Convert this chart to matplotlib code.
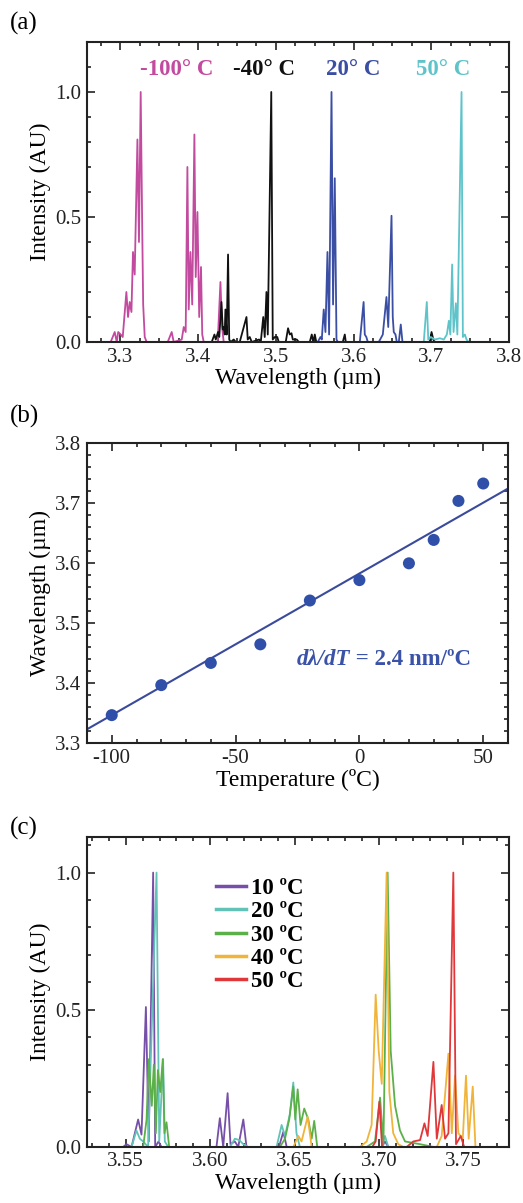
import numpy as np
import matplotlib
matplotlib.use("Agg")
import matplotlib.pyplot as plt
from matplotlib.ticker import MultipleLocator, FormatStrFormatter

plt.rcParams['font.family'] = ['Liberation Serif', 'DejaVu Serif']
plt.rcParams['font.size'] = 14
plt.rcParams['axes.unicode_minus'] = False

# --- (a) lasing spectra at four temperatures ---
a_m100_wl = [3.2875, 3.2927, 3.2953, 3.2972, 3.3004, 3.3030, 3.3077, 3.3098, 3.3120, 3.3142,
             3.3162, 3.3184, 3.3219, 3.3239, 3.3261, 3.3281, 3.3293, 3.3313, 3.3338,
             3.3609, 3.3660, 3.3686, 3.3789, 3.3815, 3.3840, 3.3862, 3.3879, 3.3901, 3.3924,
             3.3952, 3.3969, 3.3991, 3.4014, 3.4037, 3.4053, 3.4072,
             3.4252, 3.4287, 3.4308, 3.4329]
a_m100_int = [0, 0.04, 0.0, 0.04, 0.03, 0.02, 0.20, 0.10, 0.16, 0.12,
              0.36, 0.27, 0.81, 0.40, 1.0, 0.45, 0.15, 0.02, 0,
              0, 0.04, 0, 0.01, 0.06, 0.04, 0.70, 0.13, 0.36, 0.15,
              0.83, 0.26, 0.52, 0.10, 0.30, 0.03, 0,
              0, 0.24, 0.06, 0]

a_m40_wl = [3.4175, 3.4210, 3.4227, 3.4256, 3.4272, 3.4300, 3.4317, 3.4329, 3.4342, 3.4351,
            3.4368, 3.4385, 3.4400, 3.4420, 3.4458, 3.4484, 3.4535, 3.4622, 3.4638, 3.4664,
            3.4690, 3.4784, 3.4806, 3.4838, 3.4857, 3.4879, 3.4896, 3.4941, 3.4960, 3.4986,
            3.5018, 3.5037, 3.5127, 3.5157, 3.5179, 3.5201, 3.5218, 3.5269, 3.5295,
            3.5436, 3.5462, 3.5481, 3.5501, 3.5520, 3.5861, 3.5887, 3.5900,
            3.6981, 3.7003, 3.7026, 3.7045]
a_m40_int = [0, 0.03, 0.01, 0.04, 0.02, 0.16, 0.05, 0.06, 0.03, 0.13,
             0.03, 0.35, 0.01, 0, 0.01, 0, 0, 0.10, 0.01, 0.02,
             0, 0.01, 0, 0.10, 0.02, 0.20, 0.03, 1.0, 0.01, 0.02,
             0.02, 0, 0, 0.055, 0.03, 0.035, 0.01, 0.01, 0,
             0, 0.03, 0, 0.03, 0, 0, 0.03, 0,
             0, 0.04, 0.01, 0]

a_20_wl = [3.5539, 3.5574, 3.5591, 3.5616, 3.5638, 3.5664, 3.5685, 3.5716, 3.5736, 3.5758,
           3.5780, 3.5797, 3.6080, 3.6129, 3.6144, 3.6164, 3.6183,
           3.6324, 3.6359, 3.6376, 3.6423, 3.6446, 3.6488, 3.6504, 3.6517, 3.6539, 3.6556,
           3.6582, 3.6607, 3.6629]
a_20_int = [0, 0.02, 0.01, 0.13, 0.04, 0.36, 0.03, 1.0, 0.15, 0.655,
            0.01, 0, 0, 0.16, 0.03, 0.02, 0,
            0, 0.02, 0.03, 0.18, 0.06, 0.505, 0.10, 0.04, 0.03, 0,
            0, 0.07, 0]

a_50_wl = [3.6903, 3.6942, 3.6961, 3.6994, 3.7045, 3.7110, 3.7161, 3.7200, 3.7226, 3.7245,
           3.7268, 3.7286, 3.7316, 3.7335, 3.7389, 3.7406, 3.7432, 3.7453, 3.7479]
a_50_int = [0, 0.16, 0.01, 0.02, 0.01, 0.015, 0.01, 0.03, 0.085, 0.03,
            0.31, 0.04, 0.155, 0.03, 1.0, 0.02, 0.03, 0.01, 0]

a_labels = ['-100° C', '-40° C', '20° C', '50° C']
a_label_wl = [3.3725, 3.4845, 3.600, 3.7152]
a_colors = ['#c24a9f', '#111111', '#3a4ea4', '#5ec4ca']

# --- (b) peak wavelength vs temperature ---
temps = [-100, -80, -60, -40, -20, 0, 20, 30, 40, 50]
peak_wl = [3.347, 3.397, 3.434, 3.465, 3.538, 3.572, 3.600, 3.639, 3.704, 3.733]
fit_slope = 0.00236      # um per degC
fit_at_zero = 3.583      # um

# --- (c) spectra 10-50 C ---
c_10_wl = [3.5484, 3.5504, 3.5534, 3.5573, 3.5593, 3.5619, 3.5636, 3.5662, 3.5674, 3.5694,
           3.5711, 3.6037, 3.6057, 3.6077, 3.6103, 3.6120, 3.6146, 3.6166, 3.6196, 3.6215,
           3.6407, 3.6433, 3.6453, 3.7016, 3.7035, 3.7055]
c_10_int = [0, 0.01, 0.0, 0.10, 0.045, 0.51, 0.02, 1.0, 0.0, 0.02,
            0, 0, 0.105, 0.0, 0.196, 0.01, 0.02, 0.0, 0.10, 0,
            0, 0.055, 0, 0, 0.02, 0]

c_20_wl = [3.5534, 3.5563, 3.5583, 3.5603, 3.5632, 3.5682, 3.5698, 3.5721, 3.5731, 3.5751,
           3.6117, 3.6146, 3.6172, 3.6196, 3.6225, 3.6393, 3.6423, 3.6443, 3.6472, 3.6492,
           3.6511, 3.6531, 3.7016, 3.7035, 3.7055]
c_20_int = [0, 0.06, 0.03, 0.02, 0.0, 1.0, 0.02, 0.32, 0.02, 0,
            0, 0.03, 0.025, 0.01, 0, 0, 0.08, 0.04, 0.12, 0.235,
            0.05, 0, 0, 0.04, 0]

c_30_wl = [3.5603, 3.5623, 3.5636, 3.5654, 3.5666, 3.5678, 3.5690, 3.5704, 3.5719, 3.5729,
           3.5741, 3.5757, 3.6413, 3.6443, 3.6468, 3.6492, 3.6504, 3.6518, 3.6535, 3.6557,
           3.6581, 3.6601, 3.6616, 3.6634, 3.6927, 3.6976, 3.7006, 3.7026, 3.7051, 3.7069,
           3.7095, 3.7124, 3.7154, 3.7243, 3.7322]
c_30_int = [0, 0.10, 0.32, 0.15, 0.30, 0.05, 0.28, 0.20, 0.32, 0.05,
            0.09, 0, 0, 0.03, 0.10, 0.22, 0.10, 0.21, 0.08, 0.14,
            0.10, 0.03, 0.095, 0, 0, 0.02, 0.18, 0.01, 1.0, 0.35,
            0.15, 0.06, 0.02, 0.01, 0.0]

c_40_wl = [3.6492, 3.6522, 3.6541, 3.6577, 3.6601, 3.6887, 3.6927, 3.6956, 3.6980, 3.6998,
           3.7016, 3.7045, 3.7061, 3.7084, 3.7114, 3.7144, 3.7342, 3.7371, 3.7411, 3.7431,
           3.7450, 3.7470, 3.7496, 3.7515, 3.7531, 3.7555, 3.7571]
c_40_int = [0, 0.04, 0.02, 0.11, 0, 0, 0.02, 0.08, 0.555, 0.35,
            0.23, 1.0, 0.2, 0.05, 0.01, 0, 0, 0.04, 0.34, 0.05,
            0.26, 0.05, 0.03, 0.26, 0.03, 0.22, 0]

c_50_wl = [3.6960, 3.6980, 3.7002, 3.7018, 3.7164, 3.7203, 3.7243, 3.7269, 3.7288, 3.7322,
           3.7342, 3.7371, 3.7391, 3.7411, 3.7440, 3.7456, 3.7484, 3.7504]
c_50_int = [0, 0.02, 0.165, 0, 0, 0.02, 0.025, 0.086, 0.04, 0.31,
            0.03, 0.153, 0.03, 0.05, 1.0, 0.01, 0.04, 0]

c_labels = ['10 ºC', '20 ºC', '30 ºC', '40 ºC', '50 ºC']
c_colors = ['#7650a8', '#62c2b8', '#5cb04a', '#f0b43a', '#e0383a']


def style_axes(ax):
    for s in ax.spines.values():
        s.set_linewidth(1.5)
        s.set_color('#222222')
    ax.tick_params(which='both', direction='in', top=True, right=True,
                   width=1.2, colors='#222222', labelsize=15, pad=4)
    ax.tick_params(which='major', length=6)
    ax.tick_params(which='minor', length=3)


def with_ends(wl, inten, lo, hi):
    return [lo] + list(wl) + [hi], [0] + list(inten) + [0]


fig = plt.figure(figsize=(5.23, 12.03), dpi=100)

# ---------------- (a) ----------------
ax1 = fig.add_axes([0.1663, 0.7157, 0.807, 0.2494])
a_series = [(a_m100_wl, a_m100_int), (a_m40_wl, a_m40_int),
            (a_20_wl, a_20_int), (a_50_wl, a_50_int)]
for (wl, it), col in zip(a_series, a_colors):
    ax1.plot(wl, it, color=col, lw=1.3)
for lab, xw, col in zip(a_labels, a_label_wl, a_colors):
    ax1.text(xw, 1.088, lab, color=col, ha='center', va='center',
             fontsize=16.5, fontweight='bold')
ax1.set_xlim(3.257, 3.8)
ax1.set_ylim(0, 1.2)
ax1.xaxis.set_major_locator(MultipleLocator(0.1))
ax1.xaxis.set_minor_locator(MultipleLocator(0.025))
ax1.yaxis.set_major_locator(MultipleLocator(0.5))
ax1.yaxis.set_minor_locator(MultipleLocator(0.1))
ax1.set_xlabel('Wavelength (µm)', fontsize=17, labelpad=1)
ax1.set_ylabel('Intensity (AU)', fontsize=17, labelpad=3)
style_axes(ax1)

# ---------------- (b) ----------------
ax2 = fig.add_axes([0.1663, 0.3821, 0.805, 0.2494])
ax2.scatter(temps, peak_wl, s=75, color='#2f4fa8', zorder=3, edgecolors='none')
tline = np.array([-110, 60])
ax2.plot(tline, fit_at_zero + fit_slope * tline, color='#3a4a9c', lw=1.5)
t1 = ax2.text(-25.5, 3.44, 'dλ/dT', color='#3a52a8', fontsize=16.5,
              fontweight='bold', style='italic', ha='left', va='center')
ax2.annotate(' = 2.4 nm/ºC', xy=(1, 0.5), xycoords=t1, color='#3a52a8',
             fontsize=16.5, fontweight='bold', ha='left', va='center')
ax2.set_xlim(-110, 60)
ax2.set_ylim(3.3, 3.8)
ax2.xaxis.set_major_locator(MultipleLocator(50))
ax2.xaxis.set_minor_locator(MultipleLocator(10))
ax2.yaxis.set_major_locator(MultipleLocator(0.1))
ax2.yaxis.set_minor_locator(MultipleLocator(0.02))
ax2.set_xlabel('Temperature (ºC)', fontsize=17, labelpad=1)
ax2.set_ylabel('Wavelength (µm)', fontsize=17, labelpad=3)
style_axes(ax2)

# ---------------- (c) ----------------
ax3 = fig.add_axes([0.1663, 0.0466, 0.807, 0.2577])
c_lo, c_hi = 3.527, 3.777
c_series = [(c_10_wl, c_10_int), (c_20_wl, c_20_int), (c_30_wl, c_30_int),
            (c_40_wl, c_40_int), (c_50_wl, c_50_int)]
for (wl, it), col, lab in zip(c_series, c_colors, c_labels):
    xs, ys = with_ends(wl, it, c_lo, c_hi)
    ax3.plot(xs, ys, color=col, lw=1.3, label=lab)
leg = ax3.legend(loc='upper left', bbox_to_anchor=(0.278, 0.905), frameon=False,
                 prop={'weight': 'bold', 'size': 16.5}, handlelength=1.3,
                 handletextpad=0.25, labelspacing=0.1, borderpad=0)
for h in leg.get_lines():
    h.set_linewidth(2.5)
ax3.set_xlim(c_lo, c_hi)
ax3.set_ylim(0, 1.13)
ax3.xaxis.set_major_locator(MultipleLocator(0.05))
ax3.xaxis.set_minor_locator(MultipleLocator(0.01))
ax3.xaxis.set_major_formatter(FormatStrFormatter('%.2f'))
ax3.yaxis.set_major_locator(MultipleLocator(0.5))
ax3.yaxis.set_minor_locator(MultipleLocator(0.1))
ax3.set_xlabel('Wavelength (µm)', fontsize=17, labelpad=1)
ax3.set_ylabel('Intensity (AU)', fontsize=17, labelpad=3)
style_axes(ax3)

# panel letters
fig.text(10 / 523, 1 - 23 / 1203, '(a)', fontsize=18, va='center', ha='left')
fig.text(10 / 523, 1 - 416 / 1203, '(b)', fontsize=18, va='center', ha='left')
fig.text(10 / 523, 1 - 828 / 1203, '(c)', fontsize=18, va='center', ha='left')

fig.savefig('out.png', dpi=100)
